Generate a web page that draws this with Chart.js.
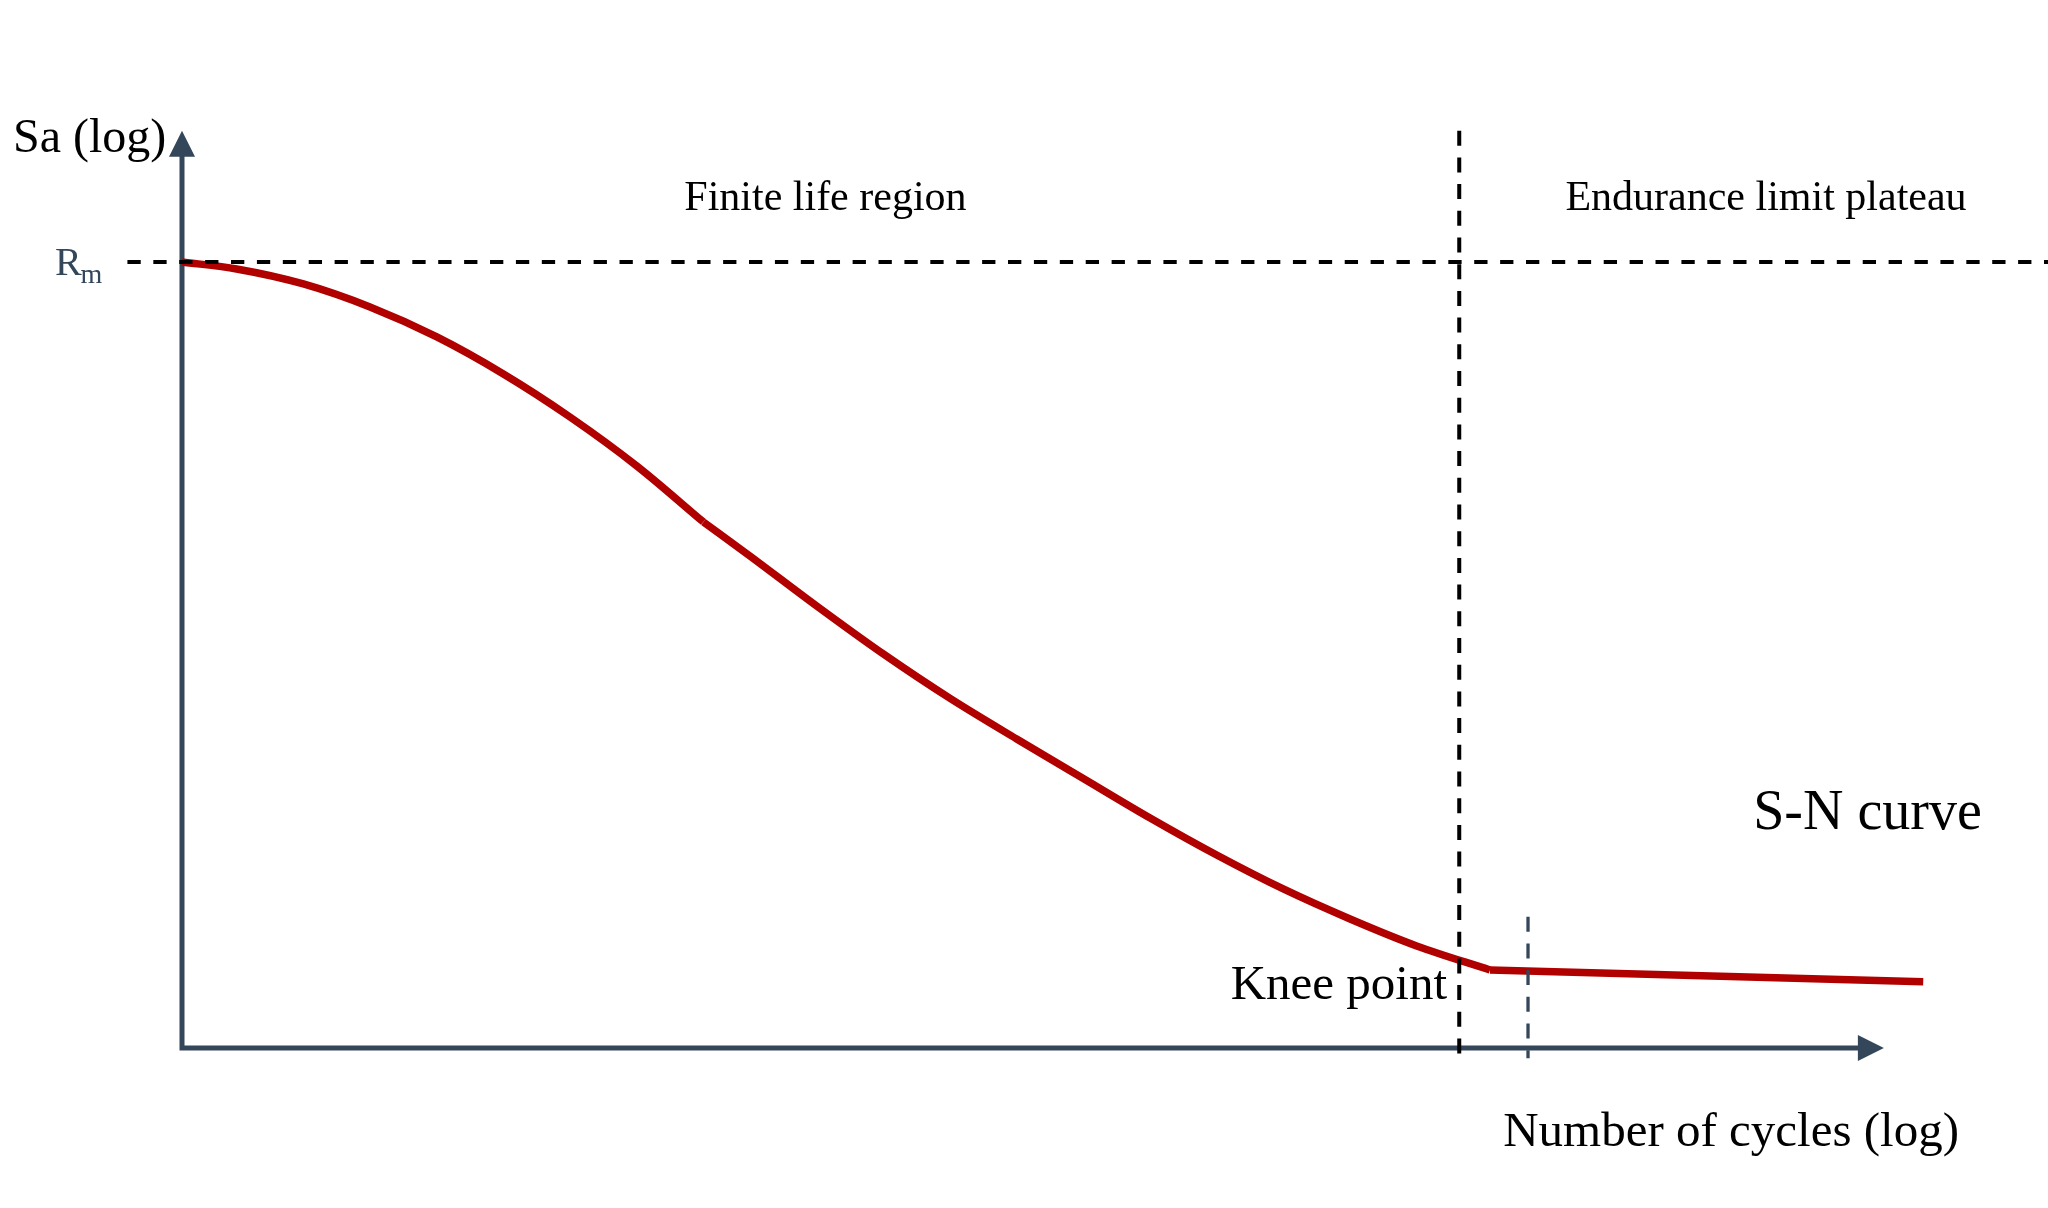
<!DOCTYPE html>
<html>
<head>
<meta charset="utf-8">
<script src="https://cdn.jsdelivr.net/npm/chart.js@4/dist/chart.umd.min.js"></script>
<style>
  html, body { margin: 0; padding: 0; background: #ffffff; }
  #wrap { width: 2048px; height: 1208px; }
</style>
</head>
<body>
<div id="wrap"><canvas id="c" width="2048" height="1208"></canvas></div>
<script>
// ---- Data (x: log of number of cycles, y: Sa / Rm) ----
// Upper part of the finite-life curve (from Rm down to the inflection)
const upperX = [0, 0.25, 0.556, 0.861, 1.167, 1.472, 1.777, 2.083, 2.388];
const upperY = [1.0, 0.9911, 0.972, 0.9427, 0.9046, 0.8575, 0.8028, 0.7405, 0.6692];
// Lower part of the finite-life curve (from the inflection to the knee)
const lowerX = [2.388, 2.601, 2.907, 3.212, 3.518, 3.823, 4.128, 4.434, 4.739, 5.044, 5.350, 5.655, 5.991];
const lowerY = [0.6692, 0.626, 0.5623, 0.5013, 0.4447, 0.3931, 0.3429, 0.2926, 0.2455, 0.2023, 0.1641, 0.1298, 0.0992];
// Endurance-limit plateau
const plateauX = [5.991, 7.975];
const plateauY = [0.0992, 0.0844];
// Reference lines
const rmLineX  = [-0.25, 8.6];
const rmLineY  = [1.0, 1.0];
const regionBoundaryX = [5.85, 5.85];
const regionBoundaryY = [1.167, -0.013];
const kneeMarkX = [6.165, 6.165];
const kneeMarkY = [0.167, -0.013];
// Texts
const axisLabels = { y: 'Sa (log)', x: 'Number of cycles (log)' };
const regionLabels = ['Finite life region', 'Endurance limit plateau'];
const curveLabel = 'S-N curve';
const kneeLabel = 'Knee point';

const toPts = (xs, ys) => xs.map((x, i) => ({ x, y: ys[i] }));

const RED = '#b00000';
const SLATE = '#34465a';
const SERIF = '"Liberation Serif", "Times New Roman", serif';

const decor = {
  id: 'decor',
  beforeDatasetsDraw(chart) {
    const { ctx, scales: { x, y } } = chart;
    const ox = x.getPixelForValue(0), oy = y.getPixelForValue(0);
    const yTop = y.getPixelForValue(1.167);
    const xEnd = x.getPixelForValue(7.795);
    ctx.save();
    ctx.strokeStyle = SLATE; ctx.fillStyle = SLATE; ctx.lineWidth = 5;
    ctx.beginPath();
    ctx.moveTo(ox, oy + 2.5); ctx.lineTo(ox, yTop + 20);
    ctx.moveTo(ox - 2.5, oy); ctx.lineTo(xEnd - 20, oy);
    ctx.stroke();
    // arrowheads
    ctx.beginPath();
    ctx.moveTo(ox, yTop); ctx.lineTo(ox - 13, yTop + 26); ctx.lineTo(ox + 13, yTop + 26); ctx.closePath();
    ctx.fill();
    ctx.beginPath();
    ctx.moveTo(xEnd, oy); ctx.lineTo(xEnd - 26, oy - 13); ctx.lineTo(xEnd - 26, oy + 13); ctx.closePath();
    ctx.fill();
    ctx.restore();
  },
  afterDraw(chart) {
    const { ctx, scales: { x, y } } = chart;
    const P = (vx, vy) => [x.getPixelForValue(vx), y.getPixelForValue(vy)];
    ctx.save();
    ctx.textBaseline = 'alphabetic';
    ctx.fillStyle = '#000';
    // y-axis title
    ctx.font = '48px ' + SERIF; ctx.textAlign = 'left';
    ctx.fillText(axisLabels.y, ...P(-0.774, 1.140));
    // region labels
    ctx.font = '42px ' + SERIF; ctx.textAlign = 'center';
    ctx.fillText(regionLabels[0], ...P(2.947, 1.066));
    ctx.fillText(regionLabels[1], ...P(7.255, 1.066));
    // S-N curve
    ctx.font = '56px ' + SERIF; ctx.textAlign = 'center';
    ctx.fillText(curveLabel, ...P(7.72, 0.2786));
    // knee point
    ctx.font = '49px ' + SERIF; ctx.textAlign = 'right';
    ctx.fillText(kneeLabel, ...P(5.794, 0.0623));
    // x-axis title
    ctx.font = '49px ' + SERIF; ctx.textAlign = 'center';
    ctx.fillText(axisLabels.x, ...P(7.095, -0.1247));
    // Rm tick label
    ctx.fillStyle = SLATE; ctx.textAlign = 'left';
    const [rx, ry] = P(-0.582, 0.983);
    ctx.font = '40px ' + SERIF;
    ctx.fillText('R', rx, ry);
    const rw = ctx.measureText('R').width;
    ctx.font = '28px ' + SERIF;
    ctx.fillText('m', rx + rw - 1, ry + 8);
    ctx.restore();
  }
};

const curveStyle = { showLine: true, borderColor: RED, borderWidth: 7.5, pointRadius: 0, borderCapStyle: 'butt', borderJoinStyle: 'round', order: 1 };

new Chart(document.getElementById('c'), {
  type: 'scatter',
  data: {
    datasets: [
      { label: 'Rm', data: toPts(rmLineX, rmLineY), showLine: true, borderColor: '#000', borderWidth: 4, borderDash: [13.3, 12.6], pointRadius: 0, order: 0 },
      { label: 'boundary', data: toPts(regionBoundaryX, regionBoundaryY), showLine: true, borderColor: '#000', borderWidth: 4, borderDash: [15, 11.7], pointRadius: 0, order: 0 },
      { label: 'knee', data: toPts(kneeMarkX, kneeMarkY), showLine: true, borderColor: SLATE, borderWidth: 3.3, borderDash: [15, 11.7], pointRadius: 0, order: 0 },
      Object.assign({ label: 'S-N upper', data: toPts(upperX, upperY), cubicInterpolationMode: 'monotone' }, curveStyle),
      Object.assign({ label: 'S-N lower', data: toPts(lowerX, lowerY), cubicInterpolationMode: 'monotone' }, curveStyle),
      Object.assign({ label: 'plateau', data: toPts(plateauX, plateauY) }, curveStyle)
    ]
  },
  options: {
    responsive: false,
    devicePixelRatio: 1,
    animation: false,
    layout: { padding: 0 },
    plugins: { legend: { display: false }, tooltip: { enabled: false } },
    scales: {
      x: { type: 'linear', display: false, min: -0.8336, max: 8.5466 },
      y: { type: 'linear', display: false, min: -0.2036, max: 1.3333 }
    }
  },
  plugins: [decor]
});
</script>
</body>
</html>
